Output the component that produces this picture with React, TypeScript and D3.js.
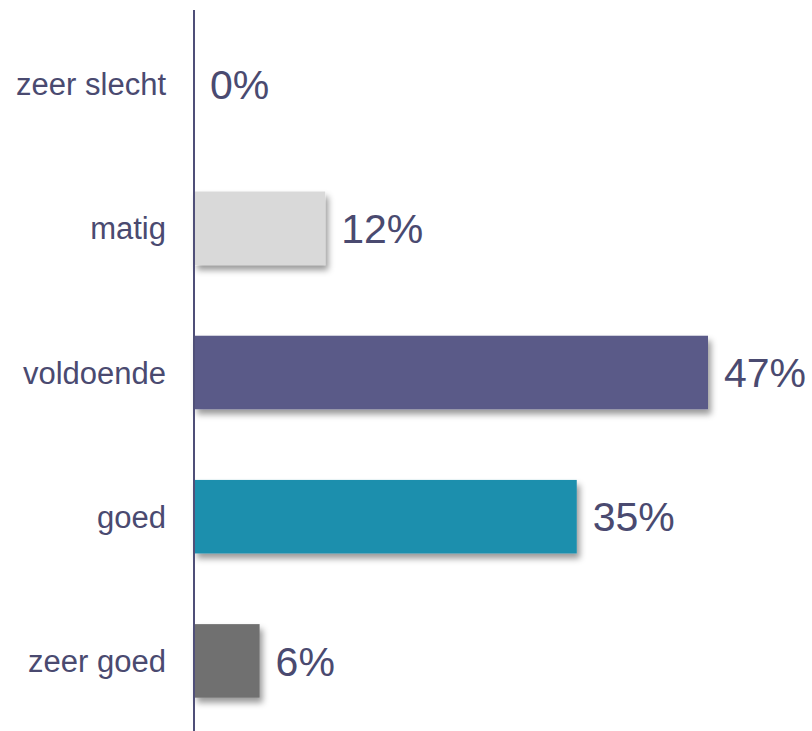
import { useRef, useEffect } from "react";
import * as d3 from "d3";

const categories = ["zeer slecht", "matig", "voldoende", "goed", "zeer goed"];
const values = [0, 12, 47, 35, 6];
const colors = ["#d9d9d9", "#d9d9d9", "#5a5a88", "#1f8fad", "#6f6f6f"];

export default function App() {
  const svgRef = useRef<SVGSVGElement>(null);

  useEffect(() => {
    const svg = d3.select(svgRef.current);
    const width = 812;
    const height = 731;
    const axisX = 194;
    const textColor = "#4a4a70";

    svg.selectAll("*").remove();
    svg.attr("width", width).attr("height", height);

    // sombra de las barras
    const filter = svg
      .append("defs")
      .append("filter")
      .attr("id", "shadow")
      .attr("x", "-10%")
      .attr("y", "-10%")
      .attr("width", "130%")
      .attr("height", "150%");
    filter
      .append("feDropShadow")
      .attr("dx", 3)
      .attr("dy", 5)
      .attr("stdDeviation", 3)
      .attr("flood-color", "#000")
      .attr("flood-opacity", 0.4);

    const x = d3.scaleLinear().domain([0, 47]).range([axisX, axisX + 514]);
    const y = d3
      .scaleBand<string>()
      .domain(categories)
      .range([12, 733])
      .paddingInner(0.49)
      .paddingOuter(0.245);

    const rows = svg
      .append("g")
      .selectAll("g")
      .data(categories)
      .join("g");

    rows
      .filter((_, i) => values[i] > 0)
      .append("rect")
      .attr("x", axisX)
      .attr("y", (d) => y(d)!)
      .attr("width", (d) => x(values[categories.indexOf(d)]) - axisX)
      .attr("height", y.bandwidth())
      .attr("fill", (d) => colors[categories.indexOf(d)])
      .attr("filter", "url(#shadow)");

    // etiquetas de valor
    rows
      .append("text")
      .attr("x", (d) => x(values[categories.indexOf(d)]) + 16)
      .attr("y", (d) => y(d)! + y.bandwidth() / 2)
      .attr("dy", "0.36em")
      .attr("font-family", "Liberation Sans, Arial, sans-serif")
      .attr("font-size", 41)
      .attr("fill", textColor)
      .text((d) => `${values[categories.indexOf(d)]}%`);

    // categorías
    rows
      .append("text")
      .attr("x", axisX - 28)
      .attr("y", (d) => y(d)! + y.bandwidth() / 2)
      .attr("dy", "0.36em")
      .attr("text-anchor", "end")
      .attr("font-family", "Liberation Sans, Arial, sans-serif")
      .attr("font-size", 31)
      .attr("fill", textColor)
      .text((d) => d);

    // eje vertical
    svg
      .append("line")
      .attr("x1", axisX)
      .attr("x2", axisX)
      .attr("y1", 10)
      .attr("y2", height)
      .attr("stroke", "#4f4f78")
      .attr("stroke-width", 2);
  }, []);

  return (
    <svg
      ref={svgRef}
      style={{ position: "absolute", left: 0, top: 0, background: "#fff" }}
    ></svg>
  );
}
